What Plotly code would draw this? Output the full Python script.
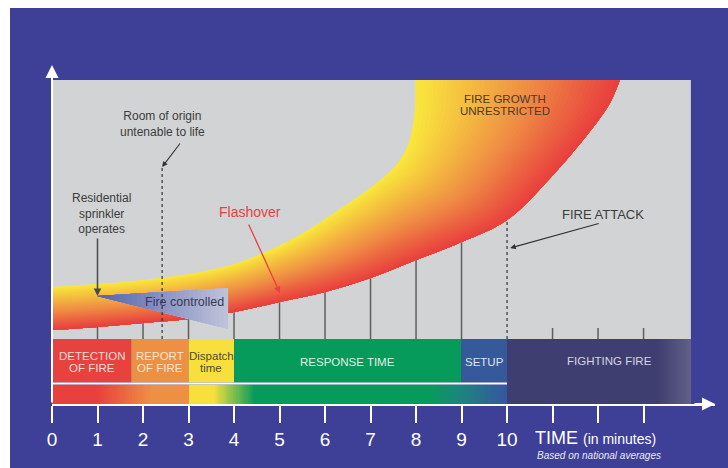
import numpy as np
import plotly.graph_objects as go

FONT = "Liberation Sans, Arial, sans-serif"

# ---- time axis -------------------------------------------------------------
tick_minutes = list(range(0, 14))
tick_labels = [str(m) for m in range(0, 11)] + ["", "", ""]
x_max = 14.57          # end of the time arrow
y_max = 339            # top of the vertical arrow (fire size, arbitrary units)
area_top = 324         # top of the grey chart area
area_end = 14.04       # right edge of the grey chart area

# ---- fire growth band (minutes, fire size) ---------------------------------
fire_low_t = [0, 1, 2, 3, 4, 5, 6, 7, 8, 9, 10, 11.01, 11.93, 12.26, 12.48]
fire_low_y = [74, 77, 81, 85, 92, 102, 112, 126, 144, 162, 184, 229, 279, 301, 324]
fire_up_t = [0, 0.99, 2.0, 3.01, 4.0, 4.79, 5.52, 6.26, 6.99, 7.34, 7.60, 7.82, 7.93, 7.98, 7.98]
fire_up_y = [117, 120, 124, 130, 140, 154, 171, 193, 216, 229, 241, 259, 279, 301, 324]

# ---- phases along the time line --------------------------------------------
phase_lines = [["DETECTION", "OF FIRE"], ["REPORT", "OF FIRE"], ["Dispatch", "time"],
               ["RESPONSE TIME"], ["SETUP"]]
phase_start = [0, 1.74, 3.0, 4.0, 9.0]
phase_end = [1.74, 3.0, 4.0, 9.0, 10.0]
phase_colors = ["#e8423f", "#ee9043", "#f7df3c", "#079b5b", "#36599c"]
phase_text_colors = ["#f6dcd6", "#fae6d2", "#4d4a3a", "#dff1e6", "#dfe3f0"]
fight_label = "FIGHTING FIRE"
fight_start, fight_end = 10.0, 14.04

# colour ramp of the combined time strip (minute, rgb)
strip_t = [0, 1.0, 2.2, 2.99, 3.0, 3.55, 4.45, 8.3, 9.0, 9.9, 10.0]
strip_rgb = [(232, 64, 63), (232, 64, 63), (238, 144, 68), (238, 144, 68), (247, 224, 60),
             (247, 224, 60), (7, 155, 91), (7, 155, 91), (28, 132, 126), (53, 89, 156), (53, 89, 156)]
fight_t = [10.0, 13.3, 14.04]
fight_rgb = [(63, 62, 112), (63, 62, 112), (96, 96, 136)]

# ---- events ----------------------------------------------------------------
sprinkler_t, sprinkler_y = 1.0, 108
controlled_end_t, controlled_top, controlled_bottom = 3.87, 116, 75
untenable_t, untenable_y = 2.42, 237
flashover_t, flashover_y = 5.01, 111
attack_t, attack_y = 10.07, 156
short_ticks = [11, 12, 13]

BLUE = "rgb(61,64,150)"
GREY = "rgb(210,211,213)"

W, H = 728, 468
ML, MR, MT, MB = 52, 13, 65, 64
PW, PH = W - ML - MR, H - MT - MB


def px_to_paper(px, py):
    return (px - ML) / PW, (H - MB - py) / PH


def mix(c0, c1, f):
    return tuple(c0[i] + (c1[i] - c0[i]) * f for i in range(3))


def rgb(c):
    return "rgb(%d,%d,%d)" % tuple(round(v) for v in c)


def fire_color(s):
    red, orange, yellow = (232, 62, 62), (239, 142, 68), (249, 232, 60)
    if s < 0.45:
        return rgb(mix(red, orange, s / 0.45))
    return rgb(mix(orange, yellow, (s - 0.45) / 0.55))


fig = go.Figure()

# guide ticks from the time line up to the fire
gx, gy = [], []
for m in range(1, 10):
    gx += [m, m, None]
    gy += [65, fire_low_y[m], None]
for m in short_ticks:
    gx += [m, m, None]
    gy += [65, 76, None]
fig.add_trace(go.Scatter(x=gx, y=gy, mode="lines", line=dict(color="#5f5f5f", width=1.5),
                         hoverinfo="skip", showlegend=False))

# fire band: nested fills from the hot edge towards the cool edge
N = 44
for k in range(N, 0, -1):
    s = k / N
    ct = [(1 - s) * a + s * b for a, b in zip(fire_low_t, fire_up_t)]
    cy = [(1 - s) * a + s * b for a, b in zip(fire_low_y, fire_up_y)]
    fig.add_trace(go.Scatter(x=fire_low_t, y=fire_low_y, mode="lines",
                             line=dict(width=0, shape="spline"), hoverinfo="skip", showlegend=False))
    fig.add_trace(go.Scatter(x=ct, y=cy, mode="lines", fill="tonexty",
                             fillcolor=fire_color(s - 0.5 / N),
                             line=dict(width=0, shape="spline"), hoverinfo="skip", showlegend=False))

# "fire controlled" wedge after the sprinkler operates
M = 30
c_left, c_right = (82, 96, 172), (190, 194, 217)
for k in range(M, 0, -1):
    f = k / M
    xe = sprinkler_t + f * (controlled_end_t - sprinkler_t)
    yt = sprinkler_y + f * (controlled_top - sprinkler_y)
    yb = sprinkler_y + f * (controlled_bottom - sprinkler_y)
    fig.add_trace(go.Scatter(x=[sprinkler_t, xe, xe, sprinkler_t], y=[sprinkler_y, yt, yb, sprinkler_y],
                             mode="lines", fill="toself", fillcolor=rgb(mix(c_left, c_right, f)),
                             line=dict(width=0), hoverinfo="skip", showlegend=False))

# dashed markers
fig.add_trace(go.Scatter(x=[untenable_t, untenable_t, None, attack_t - 0.07, attack_t - 0.07],
                         y=[65, untenable_y, None, 65, fire_low_y[10]], mode="lines",
                         line=dict(color="#333333", width=1.2, dash="3px,3px"),
                         hoverinfo="skip", showlegend=False))

# phase bar
fig.add_trace(go.Bar(y=[43.25] * len(phase_start),
                     x=[e - s for s, e in zip(phase_start, phase_end)],
                     base=phase_start, orientation="h", width=43.5,
                     marker=dict(color=phase_colors, line=dict(width=0)),
                     hoverinfo="skip", showlegend=False))

# gradient time strip
grid = np.linspace(0, 10, 401)
centers = (grid[:-1] + grid[1:]) / 2
fig.add_trace(go.Heatmap(x=grid, y=[0, 19.5], z=[centers], zmin=0, zmax=10,
                         colorscale=[[t / 10, rgb(c)] for t, c in zip(strip_t, strip_rgb)],
                         showscale=False, hoverinfo="skip"))
fgrid = np.linspace(fight_start, fight_end, 203)
fcent = (fgrid[:-1] + fgrid[1:]) / 2
fig.add_trace(go.Heatmap(x=fgrid, y=[0, 65], z=[fcent], zmin=fight_start, zmax=fight_end,
                         colorscale=[[(t - fight_start) / (fight_end - fight_start), rgb(c)]
                                     for t, c in zip(fight_t, fight_rgb)],
                         showscale=False, hoverinfo="skip"))
fig.add_trace(go.Scatter(x=[0, 10], y=[20.5, 20.5], mode="lines", line=dict(color="white", width=2),
                         hoverinfo="skip", showlegend=False))

ann = []
# phase labels
for lines, s, e, col in zip(phase_lines, phase_start, phase_end, phase_text_colors):
    n = len(lines)
    for i, ln in enumerate(lines):
        ann.append(dict(x=(s + e) / 2, y=43.25, text=ln, showarrow=False,
                        yshift=(n - 1) * 6 - i * 12 - 1,
                        font=dict(family=FONT, size=11.5, color=col)))
ann.append(dict(x=(fight_start + fight_end) / 2, y=43.25, text=fight_label, showarrow=False,
                xshift=11, yshift=0, font=dict(family=FONT, size=11.5, color="#d4d4e4")))

TXT = "#3c3c3c"
ann += [
    dict(x=untenable_t, y=280, text="Room of origin<br>untenable to life", showarrow=False,
         font=dict(family=FONT, size=12, color=TXT)),
    dict(x=sprinkler_t + 0.08, y=191, text="Residential<br>sprinkler<br>operates", showarrow=False,
         font=dict(family=FONT, size=12, color=TXT)),
    dict(x=4.35, y=192, text="Flashover", showarrow=False,
         font=dict(family=FONT, size=14, color="#e2433f")),
    dict(x=2.92, y=102, text="Fire controlled", showarrow=False,
         font=dict(family=FONT, size=12.5, color="#363a55")),
    dict(x=9.96, y=305.5, text="FIRE GROWTH", showarrow=False, yanchor="middle",
         font=dict(family=FONT, size=11.5, color="#4a3a2c")),
    dict(x=9.96, y=293.5, text="UNRESTRICTED", showarrow=False, yanchor="middle",
         font=dict(family=FONT, size=11.5, color="#4a3a2c")),
    dict(x=12.11, y=190, text="FIRE ATTACK", showarrow=False,
         font=dict(family=FONT, size=13, color=TXT)),
    # pointer arrows
    dict(x=untenable_t, y=untenable_y, ax=19, ay=-25, text="", showarrow=True,
         arrowhead=2, arrowsize=1, arrowwidth=1.1, arrowcolor="#333333"),
    dict(x=sprinkler_t, y=sprinkler_y, ax=0, ay=-59, text="", showarrow=True,
         arrowhead=2, arrowsize=1, arrowwidth=1.5, arrowcolor="#4a4a4a"),
    dict(x=flashover_t, y=flashover_y, ax=-32, ay=-70, text="", showarrow=True,
         arrowhead=2, arrowsize=1, arrowwidth=1.3, arrowcolor="#e8413f"),
    dict(x=attack_t, y=attack_y, ax=90, ay=-25, text="", showarrow=True,
         arrowhead=2, arrowsize=1, arrowwidth=1.1, arrowcolor="#333333"),
    # axis arrows
    dict(x=x_max, y=0, ax=-22, ay=0, text="", showarrow=True,
         arrowhead=2, arrowsize=1.3, arrowwidth=2, arrowcolor="white"),
    dict(x=0, y=y_max, ax=0, ay=0, axref="x", ayref="y", text="", showarrow=True,
         arrowhead=2, arrowsize=1.3, arrowwidth=2, arrowcolor="white"),
]

tx, ty = px_to_paper(533, 438)
ann.append(dict(xref="paper", yref="paper", x=tx, y=ty, xanchor="left", yanchor="middle",
                text="TIME <span style='font-size:14px'>(in minutes)</span>", showarrow=False,
                font=dict(family=FONT, size=18, color="white")))
bx, by = px_to_paper(599, 455)
ann.append(dict(xref="paper", yref="paper", x=bx, y=by, xanchor="center", yanchor="middle",
                text="<i>Based on national averages</i>", showarrow=False,
                font=dict(family=FONT, size=10, color="#e8e8f4")))

p0 = px_to_paper(10, 8)
p1 = px_to_paper(W + 5, H + 5)
shapes = [
    dict(type="rect", xref="paper", yref="paper", x0=p0[0], y0=p1[1], x1=p1[0], y1=p0[1],
         fillcolor=BLUE, line=dict(width=0), layer="below"),
    dict(type="rect", xref="x", yref="y", x0=0, x1=area_end, y0=65, y1=area_top,
         fillcolor=GREY, line=dict(width=0), layer="below"),
]

fig.update_layout(
    width=W, height=H, margin=dict(l=ML, r=MR, t=MT, b=MB),
    paper_bgcolor="white", plot_bgcolor=BLUE, barmode="overlay",
    showlegend=False, annotations=ann, shapes=shapes,
    xaxis=dict(range=[0, x_max], tickvals=tick_minutes, ticktext=tick_labels,
               showgrid=False, zeroline=False, showline=True, linecolor="white", linewidth=2,
               ticks="outside", ticklen=17, tickwidth=2, tickcolor="white",
               tickfont=dict(family=FONT, size=19, color="white"), fixedrange=True),
    yaxis=dict(range=[0, y_max], showgrid=False, zeroline=False, showline=False,
               showticklabels=False, ticks="", fixedrange=True),
)

fig.write_html("out.html")
